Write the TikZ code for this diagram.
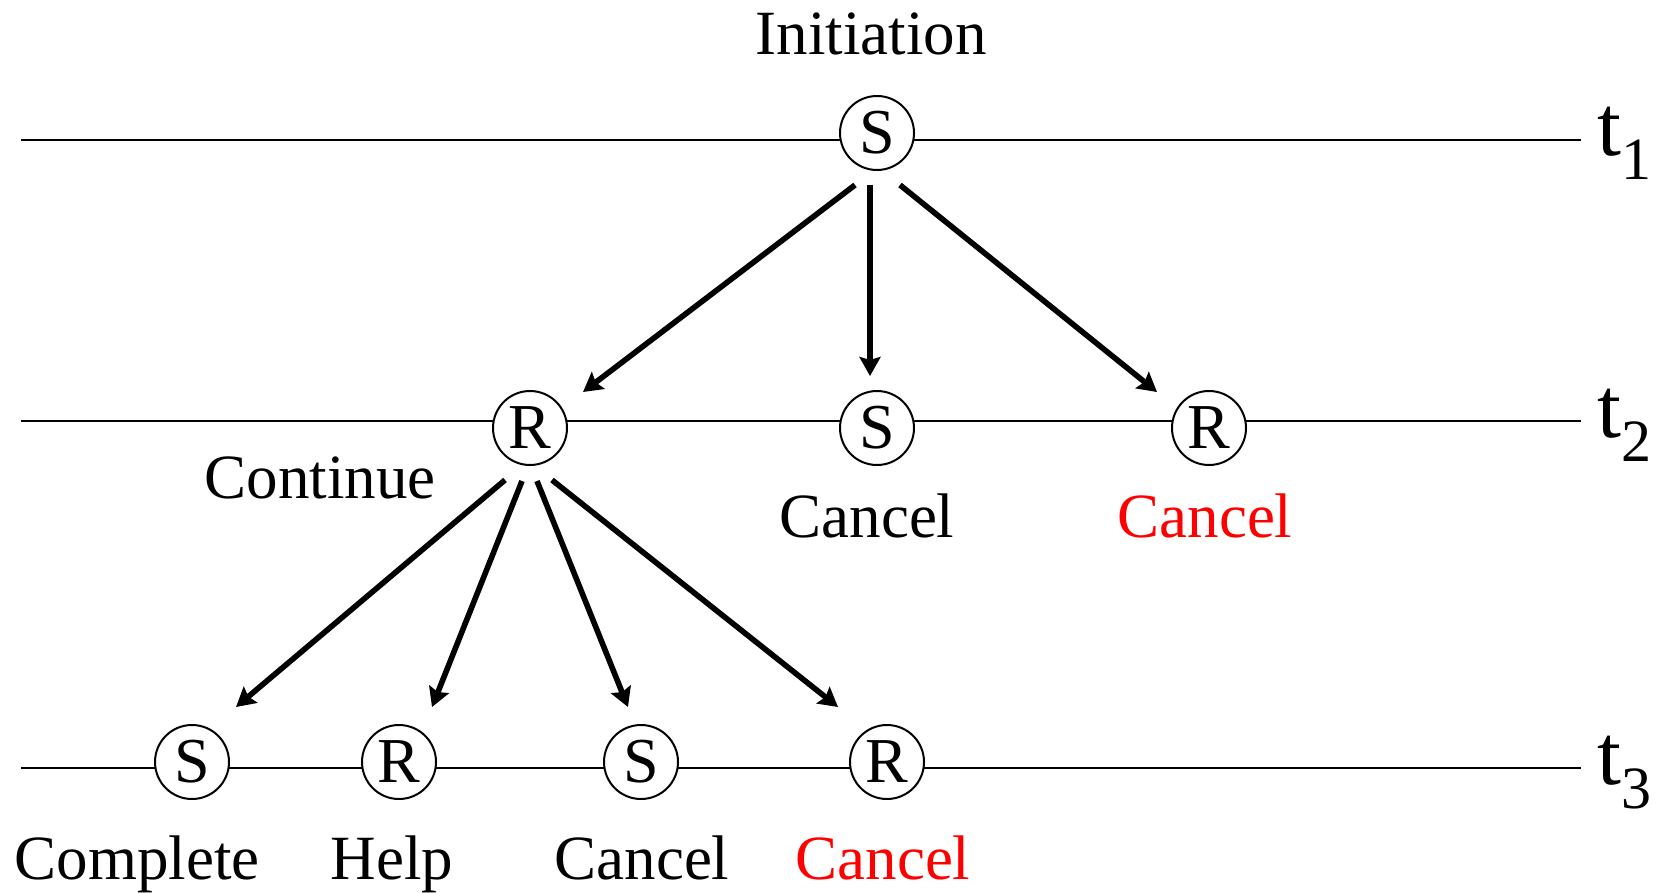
\documentclass[tikz,border=0pt]{standalone}
\usepackage{fontspec}
\setmainfont{Liberation Serif}
\usetikzlibrary{arrows.meta}
\definecolor{cancelred}{RGB}{255,0,0}

\begin{document}
\begin{tikzpicture}[x=0.5pt,y=-0.5pt,
  state/.style={circle,draw,line width=1pt,fill=white,minimum size=37pt,
    inner sep=0pt,font=\fontsize{32}{32}\selectfont},
  lbl/.style={anchor=base,inner sep=0pt,font=\fontsize{31.5}{32}\selectfont},
  timeline/.style={line width=1pt},
  arr/.style={line width=2.8pt,-{Stealth[length=9.5pt,width=10.5pt,inset=1.5pt]}},
  tlabel/.style={anchor=base west,inner sep=0pt}]
\path (0,0) rectangle (1669,893);

% time axes
\coordinate (l1a) at (21,140);  \coordinate (l1b) at (1581,140);
\coordinate (l2a) at (21,421);  \coordinate (l2b) at (1581,421);
\coordinate (l3a) at (21,768);  \coordinate (l3b) at (1581,768);
\draw[timeline] (l1a) -- (l1b);
\draw[timeline] (l2a) -- (l2b);
\draw[timeline] (l3a) -- (l3b);

\node[tlabel] (t1) at (1597,156) {{\fontsize{43}{43}\selectfont t}\raisebox{-12pt}{\fontsize{30}{30}\selectfont 1}};
\node[tlabel] (t2) at (1597,437) {{\fontsize{43}{43}\selectfont t}\raisebox{-12pt}{\fontsize{30}{30}\selectfont 2}};
\node[tlabel] (t3) at (1597,784) {{\fontsize{43}{43}\selectfont t}\raisebox{-12pt}{\fontsize{30}{30}\selectfont 3}};

% states
\node[state] (s1) at (877,133) {S};
\node[state] (r2a) at (530,428) {R};
\node[state] (s2b) at (877,428) {S};
\node[state] (r2c) at (1209,428) {R};
\node[state] (s3a) at (192,762) {S};
\node[state] (r3b) at (399,762) {R};
\node[state] (s3c) at (641,762) {S};
\node[state] (r3d) at (887,762) {R};

% labels
\node[lbl] (init) at (871,55) {Initiation};
\node[lbl] (cont) at (320,498) {Continue};
\node[lbl] (c2b) at (867,537) {Cancel};
\node[lbl,text=cancelred] (c2c) at (1205,537) {Cancel};
\node[lbl] (comp) at (137,879) {Complete};
\node[lbl] (help) at (392,879) {Help};
\node[lbl] (c3c) at (642,879) {Cancel};
\node[lbl,text=cancelred] (c3d) at (883,879) {Cancel};

% transitions
\draw[arr] ([shift={(-22,52)}]s1.center) -- ([shift={(53,-36)}]r2a.center);
\draw[arr] ([shift={(-7,52)}]s1.center) -- ([shift={(-7,-52)}]s2b.center);
\draw[arr] ([shift={(23,52)}]s1.center) -- ([shift={(-52,-36)}]r2c.center);

\draw[arr] ([shift={(-25,52)}]r2a.center) -- ([shift={(44,-55)}]s3a.center);
\draw[arr] ([shift={(-8,53)}]r2a.center) -- ([shift={(33,-55)}]r3b.center);
\draw[arr] ([shift={(7,53)}]r2a.center) -- ([shift={(-13,-55)}]s3c.center);
\draw[arr] ([shift={(22,52)}]r2a.center) -- ([shift={(-49,-55)}]r3d.center);
\end{tikzpicture}
\end{document}
